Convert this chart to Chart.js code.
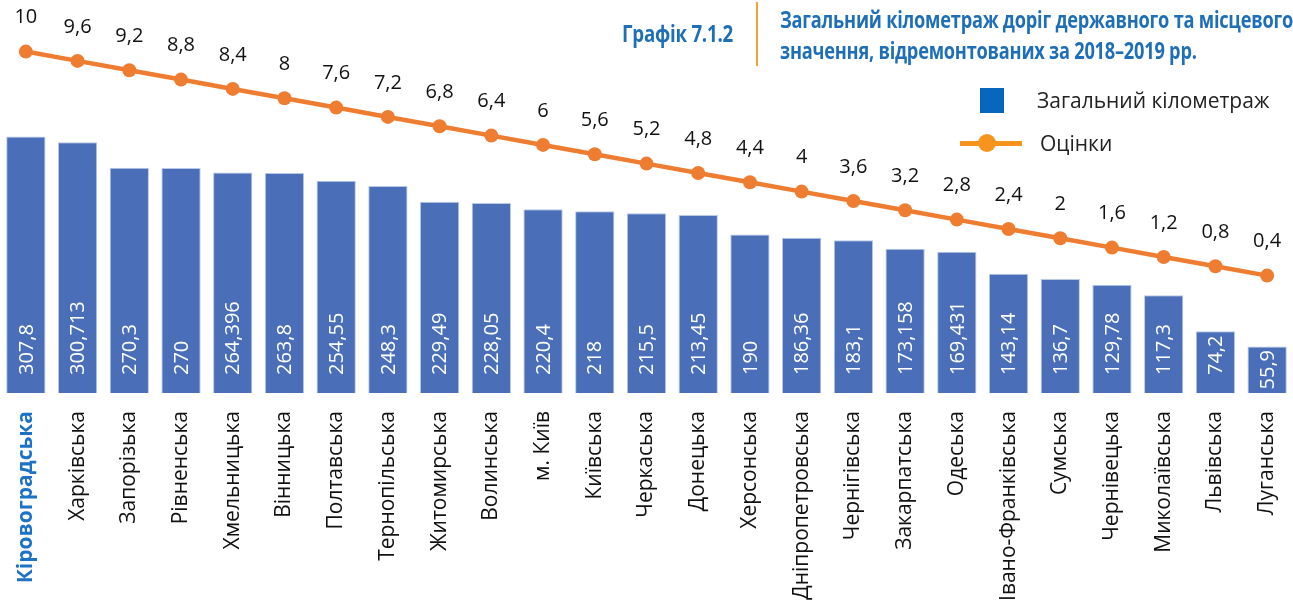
<!DOCTYPE html>
<html><head><meta charset="utf-8">
<script src="https://cdn.jsdelivr.net/npm/chart.js@4.4.1/dist/chart.umd.min.js"></script>
<style>
html,body{margin:0;padding:0;background:#fff;width:1293px;height:603px;overflow:hidden;}
#wrap{position:relative;width:1293px;height:603px;}
#c{position:absolute;left:0;top:0;}
.ttl{position:absolute;font-family:"Open Sans",sans-serif;font-weight:bold;color:#1f6fb8;font-size:23px;white-space:nowrap;transform-origin:0 0;letter-spacing:-0.3px;}
#sep{position:absolute;left:756px;top:2px;width:2px;height:64px;background:#f5a03a;}
.lg{position:absolute;font-family:"Open Sans",sans-serif;font-size:21px;color:#222;white-space:nowrap;line-height:24px;}
</style></head>
<body><div id="wrap">
<canvas id="c" width="1293" height="603"></canvas>
<div class="ttl" id="t0" style="left:622px;top:18px;line-height:30px;">Графік 7.1.2</div>
<div id="sep"></div>
<div class="ttl" id="t1" style="left:780px;top:4px;line-height:31px;">Загальний кілометраж доріг державного та місцевого<br>значення, відремонтованих за 2018–2019 рр.</div>
<div style="position:absolute;left:980px;top:88px;width:24px;height:25px;background:#0866bd;"></div>
<div class="lg" id="lg1" style="left:1037px;top:88px;"></div>
<div style="position:absolute;left:960px;top:141px;width:62px;height:5px;background:#f7941d;"></div>
<div style="position:absolute;left:978px;top:134px;width:18px;height:18px;border-radius:50%;background:#f7941d;"></div>
<div class="lg" id="lg2" style="left:1040px;top:131px;"></div>
</div>
<script>
const categories = ["Кіровоградська","Харківська","Запорізька","Рівненська","Хмельницька","Вінницька","Полтавська","Тернопільська","Житомирська","Волинська","м. Київ","Київська","Черкаська","Донецька","Херсонська","Дніпропетровська","Чернігівська","Закарпатська","Одеська","Івано-Франківська","Сумська","Чернівецька","Миколаївська","Львівська","Луганська"];
const kilometrage = [307.8,300.713,270.3,270,264.396,263.8,254.55,248.3,229.49,228.05,220.4,218,215.5,213.45,190,186.36,183.1,173.158,169.431,143.14,136.7,129.78,117.3,74.2,55.9];
const scores = [10,9.6,9.2,8.8,8.4,8,7.6,7.2,6.8,6.4,6,5.6,5.2,4.8,4.4,4,3.6,3.2,2.8,2.4,2,1.6,1.2,0.8,0.4];
const seriesNames = ["Загальний кілометраж","Оцінки"];

document.getElementById('lg1').textContent = seriesNames[0];
document.getElementById('lg2').textContent = seriesNames[1];

// condense title text horizontally to match the reference's condensed face
(function(){
  const t0 = document.getElementById('t0'), t1 = document.getElementById('t1');
  const s0 = 111 / t0.getBoundingClientRect().width;
  const s1 = 513 / t1.getBoundingClientRect().width;
  t0.style.transform = 'scaleX(' + s0 + ')';
  t1.style.transform = 'scaleX(' + s1 + ')';
})();

const fmt = v => String(v).replace('.', ',');

const labelPlugin = {
  id: 'valueLabels',
  afterDatasetsDraw(chart) {
    const ctx = chart.ctx;
    const bars = chart.getDatasetMeta(0);
    const base = chart.scales.y.getPixelForValue(0);
    ctx.save();
    ctx.font = '20px "Open Sans", sans-serif';
    ctx.fillStyle = '#ffffff';
    ctx.textAlign = 'left';
    ctx.textBaseline = 'middle';
    bars.data.forEach((el, i) => {
      const txt = fmt(kilometrage[i]);
      const w = ctx.measureText(txt).width;
      let start = base - 18;
      if (start - w < el.y + 3) start = (el.y + base) / 2 + w / 2;
      ctx.save();
      ctx.translate(el.x, start);
      ctx.rotate(-Math.PI / 2);
      ctx.fillText(txt, 0, 1);
      ctx.restore();
    });
    const pts = chart.getDatasetMeta(1);
    ctx.fillStyle = '#111111';
    ctx.textAlign = 'center';
    pts.data.forEach((el, i) => {
      ctx.fillText(fmt(scores[i]), el.x, el.y - 34);
    });
    ctx.restore();
  }
};

function noPad(scale) {
  scale.paddingLeft = 0; scale.paddingRight = 0;
  scale.paddingTop = 0; scale.paddingBottom = 0;
}

new Chart(document.getElementById('c'), {
  data: {
    labels: categories,
    datasets: [
      {
        type: 'bar', label: seriesNames[0], data: kilometrage, yAxisID: 'y',
        backgroundColor: '#4a6fb8', borderColor: '#b9c8e6', borderWidth: 1,
        barPercentage: 0.76, categoryPercentage: 1, order: 2
      },
      {
        type: 'line', label: seriesNames[1], data: scores, yAxisID: 'y2',
        borderColor: '#ee7d31', backgroundColor: '#ee7d31', borderWidth: 4.5,
        pointRadius: 7, pointBorderWidth: 0, pointBackgroundColor: '#ee7d31',
        tension: 0, order: 1, clip: false
      }
    ]
  },
  options: {
    responsive: false, animation: false,
    layout: { padding: 0, autoPadding: false },
    plugins: { legend: { display: false }, tooltip: { enabled: false } },
    events: [],
    scales: {
      x: {
        offset: true,
        grid: { display: false, drawTicks: false },
        border: { display: false },
        afterFit(scale) { scale.height = 210; noPad(scale); },
        ticks: {
          autoSkip: false, maxRotation: 90, minRotation: 90, padding: 18,
          color: c => c.index === 0 ? '#1c73c6' : '#111111',
          font: c => ({ family: '"Open Sans", sans-serif', size: 21, weight: c.index === 0 ? 'bold' : 'normal' })
        }
      },
      y: { display: false, min: 0, max: 471.4, afterFit: noPad },
      y2: { display: false, min: -4.63, max: 12.21, afterFit: noPad }
    }
  },
  plugins: [labelPlugin]
});
</script>
</body></html>
